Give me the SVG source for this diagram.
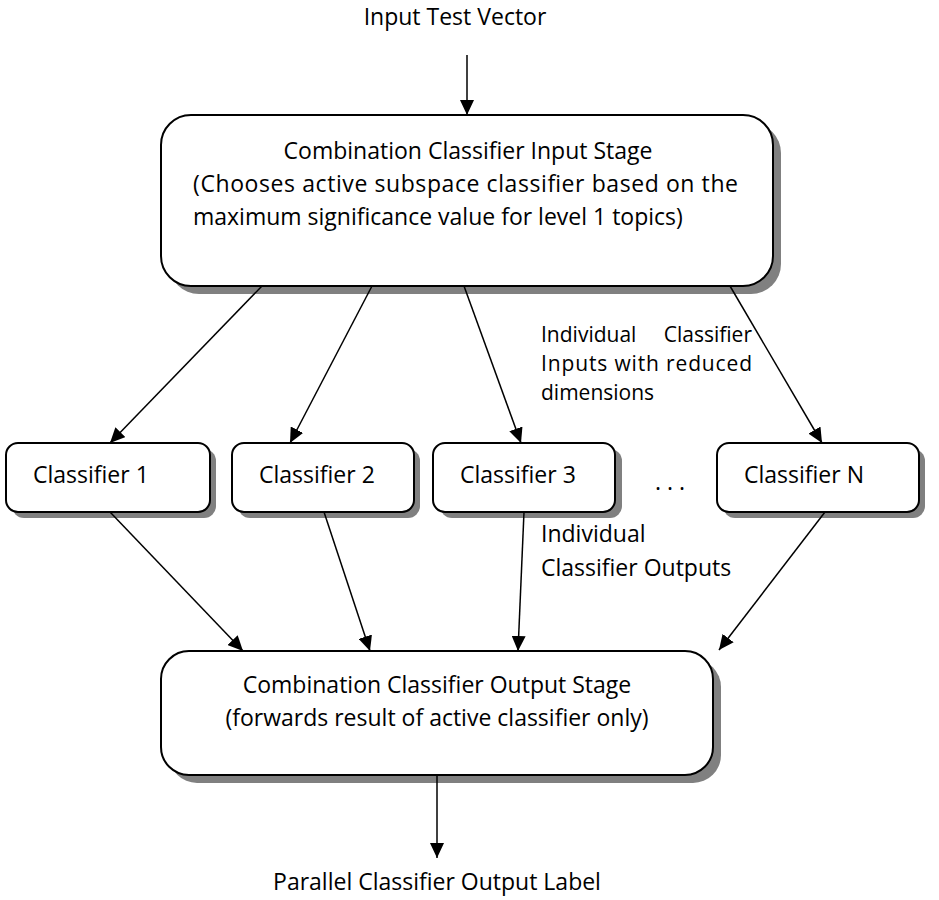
<svg xmlns="http://www.w3.org/2000/svg" width="939" height="900" viewBox="0 0 939 900">
<style>
text{font-family:"Open Sans","Noto Sans","Liberation Sans",sans-serif;font-size:23px;fill:#000}
.sm{font-size:21px}
.box{fill:#fff;stroke:#000;stroke-width:2}
.sh{fill:#808080}
.c{stroke:#000;stroke-width:1.5;fill:none;marker-end:url(#ah)}
</style>
<defs>
<marker id="ah" viewBox="0 0 15 14" refX="15" refY="7" markerWidth="15" markerHeight="14" markerUnits="userSpaceOnUse" orient="auto">
<path d="M0,0 L15,7 L0,14 z" fill="#000"/>
</marker>
</defs>
<text x="455" y="25" text-anchor="middle">Input Test Vector</text>
<g id="input-stage">
<rect class="sh" x="169" y="123" width="612" height="171" rx="30"/>
<rect class="box" x="161" y="115" width="612" height="171" rx="30"/>
<text x="468" y="159" text-anchor="middle">Combination Classifier Input Stage</text>
<text x="193" y="192" textLength="545" lengthAdjust="spacing">(Chooses active subspace classifier based on the</text>
<text x="193" y="225">maximum significance value for level 1 topics)</text>
</g>
<g id="classifier-1">
<rect class="sh" x="12" y="449" width="204" height="69" rx="12"/>
<rect class="box" x="6" y="443" width="204" height="69" rx="12"/>
<text x="33" y="483">Classifier 1</text>
</g>
<g id="classifier-2">
<rect class="sh" x="238" y="449" width="182" height="69" rx="12"/>
<rect class="box" x="232" y="443" width="182" height="69" rx="12"/>
<text x="259" y="483">Classifier 2</text>
</g>
<g id="classifier-3">
<rect class="sh" x="440" y="449" width="182" height="69" rx="12"/>
<rect class="box" x="433" y="443" width="182" height="69" rx="12"/>
<text x="460" y="483">Classifier 3</text>
</g>
<text x="670" y="490" text-anchor="middle">. . .</text>
<g id="classifier-n">
<rect class="sh" x="723" y="449" width="202" height="69" rx="12"/>
<rect class="box" x="717" y="443" width="202" height="69" rx="12"/>
<text x="744" y="483">Classifier N</text>
</g>
<g id="output-stage">
<rect class="sh" x="169" y="659" width="552" height="124" rx="28"/>
<rect class="box" x="161" y="651" width="552" height="124" rx="28"/>
<text x="437" y="693" text-anchor="middle">Combination Classifier Output Stage</text>
<text x="437" y="726" text-anchor="middle">(forwards result of active classifier only)</text>
</g>
<text x="437" y="890" text-anchor="middle">Parallel Classifier Output Label</text>
<g id="connectors">
<line class="c" x1="467" y1="55" x2="467" y2="115"/>
<line class="c" x1="262" y1="286" x2="110" y2="443"/>
<line class="c" x1="372" y1="286" x2="290" y2="443"/>
<line class="c" x1="464" y1="286" x2="521" y2="443"/>
<line class="c" x1="730" y1="286" x2="822" y2="443"/>
<line class="c" x1="110" y1="512" x2="243" y2="651"/>
<line class="c" x1="324" y1="512" x2="370" y2="651"/>
<line class="c" x1="524" y1="512" x2="518" y2="651"/>
<line class="c" x1="825" y1="512" x2="719" y2="650"/>
<line class="c" x1="437" y1="775" x2="437" y2="858"/>
</g>
<text class="sm" x="541" y="342"><tspan x="541" y="342">Individual</tspan><tspan x="752" y="342" text-anchor="end">Classifier</tspan><tspan x="541" y="371" textLength="211" lengthAdjust="spacing">Inputs with reduced</tspan><tspan x="541" y="400">dimensions</tspan></text>
<text x="541" y="542"><tspan x="541" y="542">Individual</tspan><tspan x="541" y="576">Classifier Outputs</tspan></text>
</svg>
